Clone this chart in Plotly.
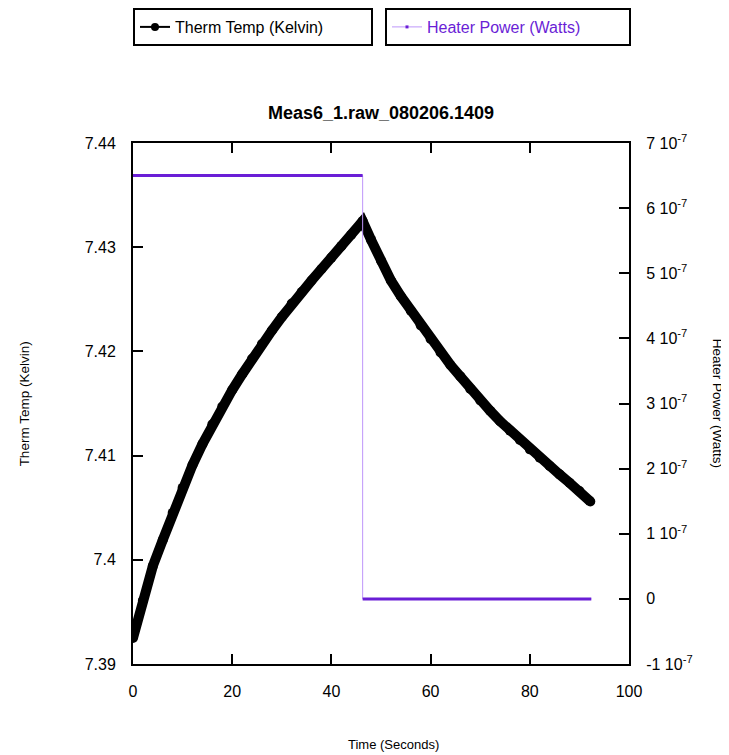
"""Thermistor temperature and heater power vs time."""

import plotly.graph_objects as go

# Therm Temp (Kelvin)
time_s = [0, 2, 4, 6, 8, 10, 12, 14, 16, 18, 20, 22, 24, 26, 28, 30, 32, 34, 36,
          38, 40, 42, 44, 46, 46.3, 48, 50, 52, 54, 56, 58, 60, 62, 64, 66, 68,
          70, 72, 74, 76, 78, 80, 82, 84, 86, 88, 90, 92.2]
temp_k = [7.3925, 7.3961, 7.3994, 7.4019, 7.4045, 7.4069, 7.4091, 7.4111,
          7.4130, 7.4147, 7.4163, 7.4178, 7.4193, 7.4207, 7.4220, 7.4233,
          7.4246, 7.4257, 7.4268, 7.4279, 7.4290, 7.4301, 7.4312, 7.4323,
          7.4325, 7.4307, 7.4287, 7.4268, 7.4253, 7.4239, 7.4225, 7.4212,
          7.4199, 7.4187, 7.4176, 7.4164, 7.4153, 7.4143, 7.4133, 7.4124,
          7.4115, 7.4106, 7.4098, 7.4090, 7.4082, 7.4074, 7.4066, 7.4056]

# Heater Power (Watts)
heater_time = [0, 46.3, 46.3, 92.4]
heater_power = [6.5e-7, 6.5e-7, 0, 0]

y2_ticks = [-1e-7, 0, 1e-7, 2e-7, 3e-7, 4e-7, 5e-7, 6e-7, 7e-7]
y2_labels = ["-1 10<sup>-7</sup>", "0"] + [f"{i} 10<sup>-7</sup>" for i in range(1, 8)]

PURPLE = "rgb(106, 30, 214)"
LAVENDER = "rgb(190, 150, 250)"
FONT = "Liberation Sans, Arial, sans-serif"

W, H = 721, 747  # page body adds an 8px margin around the figure

fig = go.Figure()

# heater: thin connecting line, thick flat segments on top
fig.add_trace(go.Scatter(
    x=heater_time, y=heater_power, yaxis="y2", mode="lines",
    line=dict(color=LAVENDER, width=1), showlegend=False, hoverinfo="skip"
))
seg_x, seg_y = [], []
for i in range(len(heater_time) - 1):
    if heater_power[i] == heater_power[i + 1]:
        seg_x += [heater_time[i], heater_time[i + 1], None]
        seg_y += [heater_power[i], heater_power[i + 1], None]
fig.add_trace(go.Scatter(
    x=seg_x, y=seg_y, yaxis="y2", mode="lines",
    line=dict(color=PURPLE, width=3), showlegend=False,
    hovertemplate="%{x} s<br>%{y:.2e} W<extra></extra>"
))

# temperature: thick black line of dense points
fig.add_trace(go.Scatter(
    x=time_s, y=temp_k, mode="lines+markers",
    line=dict(color="black", width=10),
    marker=dict(color="black", size=10),
    showlegend=False,
    hovertemplate="%{x} s<br>%{y:.4f} K<extra></extra>"
))

# legend entries
fig.add_trace(go.Scatter(
    x=[None], y=[None], mode="lines+markers", name="Therm Temp (Kelvin)",
    line=dict(color="black", width=2), marker=dict(color="black", size=8),
    legend="legend"
))
fig.add_trace(go.Scatter(
    x=[None], y=[None], mode="lines+markers", name="Heater Power (Watts)",
    line=dict(color=LAVENDER, width=1),
    marker=dict(color=PURPLE, size=3, symbol="square"),
    legend="legend2"
))

axis_common = dict(
    showline=True, linecolor="black", linewidth=2,
    ticks="inside", ticklen=10, tickwidth=2, tickcolor="black",
    showgrid=False, zeroline=False,
    tickfont=dict(size=16, color="black"),
)

fig.update_layout(
    width=W, height=H,
    margin=dict(l=125, r=100, t=135, b=91),
    paper_bgcolor="white", plot_bgcolor="white",
    font=dict(family=FONT, color="black"),
    title=dict(
        text="<b>Meas6_1.raw_080206.1409</b>",
        font=dict(size=18, color="black"),
        x=0.5, xref="paper", xanchor="center",
        y=1 - 105 / H, yref="container", yanchor="middle"
    ),
    xaxis=dict(range=[0, 100], tickvals=[0, 20, 40, 60, 80, 100],
               mirror="ticks", ticklabelstandoff=12, **axis_common),
    yaxis=dict(range=[7.39, 7.44],
               tickvals=[7.39, 7.40, 7.41, 7.42, 7.43, 7.44],
               ticktext=["7.39", "7.4", "7.41", "7.42", "7.43", "7.44"],
               ticklabelstandoff=12, **axis_common),
    yaxis2=dict(range=[-1e-7, 7e-7], overlaying="y", side="right",
                tickvals=y2_ticks, ticktext=y2_labels,
                ticklabelstandoff=12, **axis_common),
    legend=dict(
        xref="container", yref="container",
        x=125 / W, y=1, xanchor="left", yanchor="top",
        orientation="h", entrywidth=191,
        bordercolor="black", borderwidth=2, bgcolor="white",
        font=dict(size=16, color="black")
    ),
    legend2=dict(
        xref="container", yref="container",
        x=377 / W, y=1, xanchor="left", yanchor="top",
        orientation="h", entrywidth=197,
        bordercolor="black", borderwidth=2, bgcolor="white",
        font=dict(size=16, color=PURPLE)
    ),
    showlegend=True,
)

fig.add_annotation(text="Therm Temp (Kelvin)", textangle=-90,
                   xref="paper", yref="paper", x=-0.218, y=0.5,
                   xanchor="center", yanchor="middle",
                   showarrow=False, font=dict(size=13.5))
fig.add_annotation(text="Heater Power (Watts)", textangle=90,
                   xref="paper", yref="paper", x=1.179, y=0.5,
                   xanchor="center", yanchor="middle",
                   showarrow=False, font=dict(size=13.5))
fig.add_annotation(text="Time (Seconds)",
                   xref="paper", yref="paper", x=0.526, y=-0.155,
                   xanchor="center", yanchor="middle",
                   showarrow=False, font=dict(size=13))

fig.write_html("out.html")
